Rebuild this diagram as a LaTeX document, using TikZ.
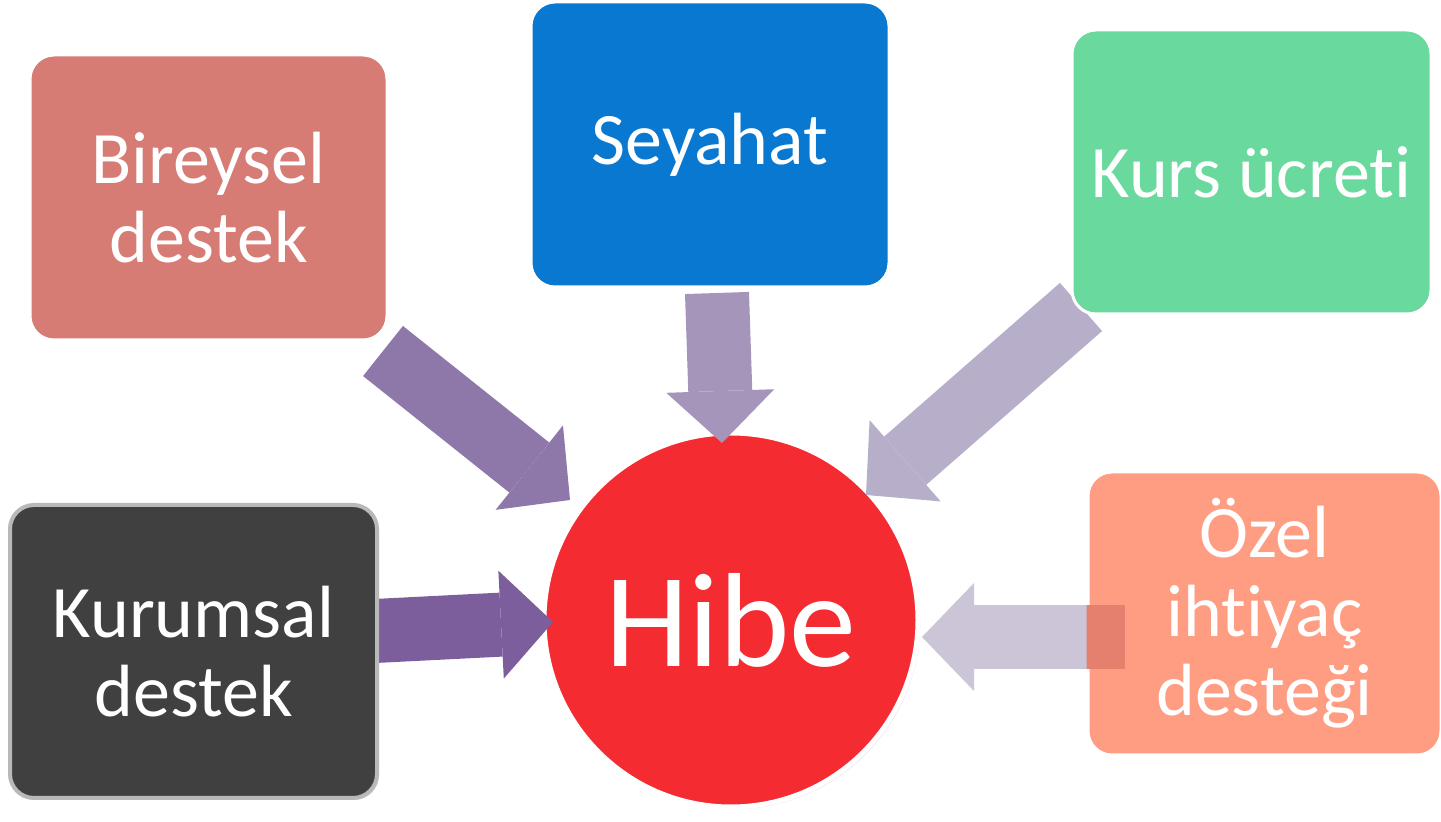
\documentclass[tikz,border=0pt]{standalone}
\usepackage{fontspec}
\setmainfont{Carlito}[Ligatures={NoCommon,NoRequired,NoContextual}]
\usetikzlibrary{arrows.meta,shadows}

\definecolor{bireyselred}{HTML}{D77B75}
\definecolor{seyahatblue}{HTML}{0878D0}
\definecolor{kursgreen}{HTML}{69D99D}
\definecolor{kurumsalgray}{HTML}{404040}
\definecolor{ozelorange}{HTML}{FE9D82}
\definecolor{hibered}{HTML}{F52B32}
\definecolor{pilone}{HTML}{8E78AA}
\definecolor{piltwo}{HTML}{A595BA}
\definecolor{pilthree}{HTML}{B7AECA}
\definecolor{pilfour}{HTML}{7D5E9D}
\definecolor{pilfive}{HTML}{CCC5D8}
\definecolor{pilover}{HTML}{E5806F}

\tikzset{
  box/.style={draw=white, line width=1.5pt, rounded corners=12pt, text=white,
    align=center, inner sep=0pt, font=\fontsize{37pt}{39.5pt}\selectfont},
  pil/.style={line width=32pt, -{Triangle[length=26pt, width=54pt, line width=0pt]}}
}

\begin{document}
\begin{tikzpicture}[x=0.5pt, y=-0.5pt]
    \useasboundingbox (0,0) rectangle (1441,822);

    % Centre
    \node[circle, fill=hibered, draw=white, line width=2.5pt, minimum size=187pt, inner sep=0pt,
      drop shadow={opacity=0.15, shadow xshift=1.2pt, shadow yshift=-1.2pt},
      text=white, font=\fontsize{67pt}{67pt}\selectfont] (hibe) at (731,620) {Hibe};

    % Arrow ends
    \coordinate (bireysel-out) at (383,351);
    \coordinate (bireysel-in) at (570,500);
    \coordinate (seyahat-out) at (717,293);
    \coordinate (seyahat-in) at (722,443);
    \coordinate (kurs-out) at (1081,307);
    \coordinate (kurs-in) at (866,495);
    \coordinate (kurumsal-out) at (375,631);
    \coordinate (kurumsal-in) at (553,622);
    \coordinate (ozel-out) at (1125,637);
    \coordinate (ozel-in) at (922,637);

    % Arrows
    \draw[pil, draw=pilone, fill=pilone] (bireysel-out) -- (bireysel-in);
    \draw[pil, draw=piltwo, fill=piltwo] (seyahat-out) -- (seyahat-in);
    \draw[pil, draw=pilthree, fill=pilthree] (kurs-out) -- (kurs-in);
    \draw[pil, draw=pilfour, fill=pilfour] (kurumsal-out) -- (kurumsal-in);

    % Boxes
    \node[box, fill=bireyselred, minimum width=178.5pt, minimum height=142.5pt] (bireysel) at (208.5,197.5) {Bireysel\\destek};
    \node[box, fill=seyahatblue, minimum width=179pt, minimum height=142.5pt] (seyahat) at (710,144.5) {Seyahat};
    \node[box, fill=kursgreen, minimum width=179.5pt, minimum height=142pt] (kurs) at (1251.5,172) {Kurs ücreti};
    \node[box, fill=kurumsalgray, draw=gray!55, line width=2pt, minimum width=183.5pt, minimum height=146.5pt,
      drop shadow={opacity=0.2, shadow xshift=1pt, shadow yshift=-1pt}] (kurumsal) at (193.5,651.5) {Kurumsal\\destek};
    \node[box, fill=ozelorange, minimum width=176.5pt, minimum height=141.5pt] (ozel) at (1264.5,613.5) {Özel\\ihtiyaç\\desteği};

    % Last arrow lies over its box
    \draw[pil, draw=pilfive, fill=pilfive] (ozel-out) -- (ozel-in);
    \begin{scope}
      \clip (ozel.south west) rectangle (ozel.north east);
      \draw[pil, draw=pilover, fill=pilover] (ozel-out) -- (ozel-in);
    \end{scope}
\end{tikzpicture}
\end{document}
